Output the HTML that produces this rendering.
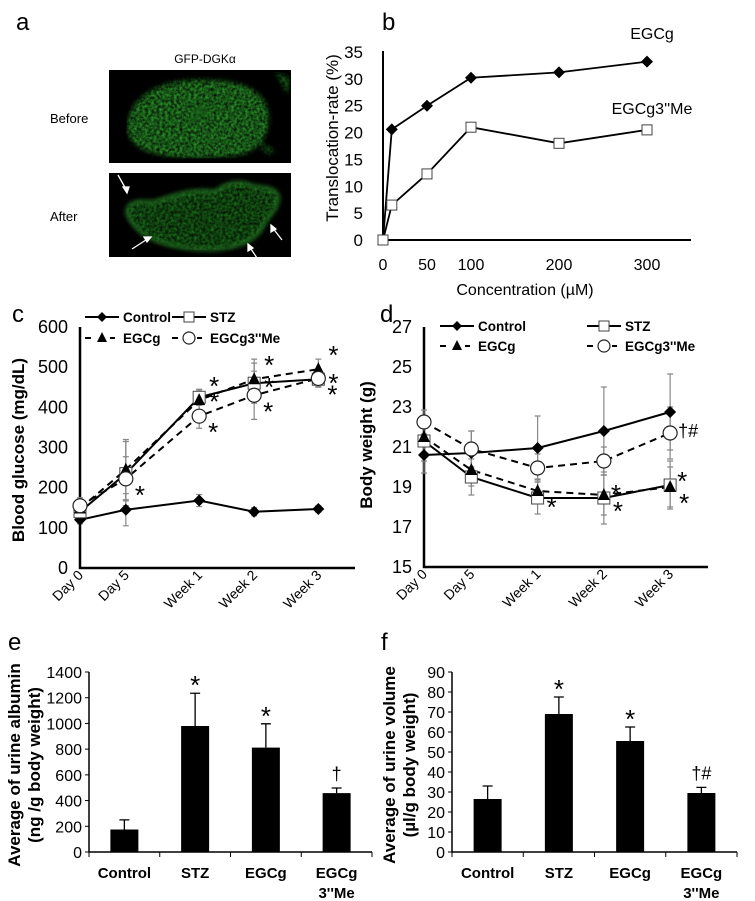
<!DOCTYPE html>
<html><head><meta charset="utf-8"><style>
html,body{margin:0;padding:0;background:#fff;}
svg{display:block;font-family:"Liberation Sans",sans-serif;}
</style></head><body>
<svg id="fig" width="755" height="901" viewBox="0 0 755 901" xmlns="http://www.w3.org/2000/svg">
<defs>
<filter id="blur2"><feGaussianBlur stdDeviation="2.5"/></filter>
<filter id="tex" x="0" y="0" width="100%" height="100%">
<feTurbulence type="fractalNoise" baseFrequency="0.35" numOctaves="2" result="n"/>
<feColorMatrix in="n" type="matrix" values="0 0 0 0 0  0 0 0 0 0  0 0 0 0 0  0 0 0 -1.2 1.1" result="m"/>
<feComposite in="SourceGraphic" in2="m" operator="in"/>
</filter>
</defs>
<g>
<text x="16" y="30" font-size="24">a</text>
<text x="205" y="63" font-size="12" text-anchor="middle">GFP-DGKα</text>
<text x="50" y="123" font-size="13">Before</text>
<text x="50" y="221" font-size="13">After</text>
<g>
<rect x="109" y="70" width="182" height="93" fill="#000"/>
<g filter="url(#tex)"><g filter="url(#blur2)">
<path d="M128,120 C135,90 170,78 205,80 C240,80 262,88 268,110 C272,130 262,150 240,155 C210,160 160,160 140,148 C128,140 125,130 128,120Z" fill="#2fa82f"/>
<path d="M255,140 L275,150 L268,155Z M275,72 L290,78 L288,95Z" fill="#1f7f1f"/>
</g></g>
<ellipse cx="200" cy="112" rx="8" ry="6" fill="#155a15" opacity="0.6" filter="url(#blur2)"/>
</g>
<g>
<rect x="109" y="173" width="182" height="84" fill="#000"/>
<g filter="url(#tex)"><g filter="url(#blur2)">
<path d="M130,205 C140,198 150,205 160,200 C175,195 195,188 215,192 C225,184 240,178 252,186 C262,188 272,186 278,195 C282,205 268,215 262,228 C255,240 240,246 225,248 C205,252 185,248 170,245 C150,240 138,232 132,222 C126,215 125,210 130,205Z" fill="#1c7a1c"/>
</g></g>
<path d="M130,205 C140,198 150,205 160,200 C175,195 195,188 215,192 C225,184 240,178 252,186 C262,188 272,186 278,195 C282,205 268,215 262,228 C255,240 240,246 225,248 C205,252 185,248 170,245 C150,240 138,232 132,222 C126,215 125,210 130,205Z" fill="none" stroke="#3fc43f" stroke-width="2.5" opacity="0.7" filter="url(#blur2)"/>
<g stroke="#fff" stroke-width="1.3">
<line x1="118" y1="175" x2="127" y2="191"/><polygon points="127,193 123,187 129,187" fill="#fff"/>
<line x1="132" y1="249" x2="149" y2="238"/><polygon points="151,237 144,237 147,242" fill="#fff"/>
<line x1="257" y1="258" x2="249" y2="246"/><polygon points="248,244 248,251 253,248" fill="#fff"/>
<line x1="282" y1="240" x2="272" y2="227"/><polygon points="271,225 271,232 276,229" fill="#fff"/>
</g>
</g>
</g>
<g id="b"></g>
<g id="c"></g>
<g id="d"></g>
<g id="e"></g>
<g id="f"></g>
</svg>
<script>
// ---- panel b data
const bConc = [0, 10, 50, 100, 200, 300];
const bEGCg = [0, 20.6, 25.0, 30.2, 31.2, 33.2];
const bMe = [0, 6.5, 12.3, 21.0, 18.0, 20.5];
const bYTicks = [0, 5, 10, 15, 20, 25, 30, 35];
const bXTicks = [0, 50, 100, 200, 300];
// ---- panel c data
const weekLabels = ["Day 0", "Day 5", "Week 1", "Week 2", "Week 3"];
const cDays = [0, 5, 13, 19, 26];
const dDays = [0, 5, 12, 19, 26];
const cControl = [120, 145, 168, 140, 147];
const cSTZ = [140, 235, 425, 460, 470];
const cEGCg = [148, 245, 418, 470, 495];
const cMe = [155, 222, 378, 430, 472];
const cControlErr = [10, 40, 15, 10, 8];
const cSTZErr = [20, 80, 20, 50, 20];
const cEGCgErr = [20, 75, 25, 50, 25];
const cMeErr = [20, 55, 30, 60, 20];
const cYTicks = [0, 100, 200, 300, 400, 500, 600];
// ---- panel d data
const dControl = [20.6, 20.7, 20.95, 21.8, 22.75];
const dSTZ = [21.3, 19.5, 18.45, 18.45, 19.1];
const dEGCg = [21.5, 19.85, 18.8, 18.6, 19.0];
const dMe = [22.25, 20.9, 19.95, 20.3, 21.7];
const dControlErr = [0.9, 1.1, 1.6, 2.2, 1.9];
const dSTZErr = [1.0, 0.9, 0.8, 1.3, 1.2];
const dEGCgErr = [0.9, 0.8, 0.6, 1.0, 1.0];
const dMeErr = [0.6, 0.9, 0.7, 0.7, 1.3];
const dYTicks = [15, 17, 19, 21, 23, 25, 27];
// ---- panel e/f data
const barCats = ["Control", "STZ", "EGCg", "EGCg|3''Me"];
const eVals = [175, 980, 812, 458];
const eErr = [75, 255, 185, 40];
const eMarks = ["", "*", "*", "†"];
const eYTicks = [0, 200, 400, 600, 800, 1000, 1200, 1400];
const fVals = [26.5, 69, 55.5, 29.5];
const fErr = [6.5, 8.5, 7, 2.8];
const fMarks = ["", "*", "*", "†#"];
const fYTicks = [0, 10, 20, 30, 40, 50, 60, 70, 80, 90];

const NS = "http://www.w3.org/2000/svg";
function mk(parent, tag, attrs, txt) {
  const el = document.createElementNS(NS, tag);
  for (const k in attrs) el.setAttribute(k, attrs[k]);
  if (txt !== undefined) el.textContent = txt;
  parent.appendChild(el);
  return el;
}
function lin(d0, d1, r0, r1) { return v => r0 + (v - d0) / (d1 - d0) * (r1 - r0); }

function marker(g, type, x, y, s) {
  let el;
  if (type === "diamond") el = mk(g, "polygon", {points: `${x},${y-s} ${x+s},${y} ${x},${y+s} ${x-s},${y}`, fill: "#000"});
  else if (type === "square") el = mk(g, "rect", {x: x-s, y: y-s, width: 2*s, height: 2*s, fill: "#fff", stroke: "#444", "stroke-width": 1});
  else if (type === "triangle") el = mk(g, "polygon", {points: `${x},${y-s-1} ${x+s},${y+s-1} ${x-s},${y+s-1}`, fill: "#000"});
  else el = mk(g, "circle", {cx: x, cy: y, r: s, fill: "#fff", stroke: "#222", "stroke-width": 1.2});
  
  
  return el;
}
function sigText(g, x, y, t, anchor) {
  // asterisk glyph is small/high in Liberation; draw it larger and lower
  const star = t === "*";
  const el = mk(g, "text", {x: x, y: star ? y + 9 : y, "font-size": star ? 26 : 18, "text-anchor": anchor || "start"}, t);
  
  
  return el;
}

// ---------- panel b
(function () {
  const g = document.getElementById("b");
  const x = lin(0, 350, 383, 691), y = lin(0, 35, 240, 52);
  const lbl = mk(g, "text", {x: 382, y: 30, "font-size": 24}, "b");
  
  
  const ax = mk(g, "path", {d: `M383,51 V240 H691`, fill: "none", stroke: "#000", "stroke-width": 2});
  
  
  bYTicks.forEach(t => {
    const el = mk(g, "text", {x: 363, y: y(t) + 6, "font-size": 17, "text-anchor": "end"}, t);
    
    
  });
  bXTicks.forEach(t => {
    const el = mk(g, "text", {x: x(t), y: 270, "font-size": 16, "text-anchor": "middle"}, t);
    
    
  });
  const yt = mk(g, "text", {transform: "translate(338,138) rotate(-90)", "font-size": 17, "text-anchor": "middle"}, "Translocation-rate (%)");
  
  
  const xt = mk(g, "text", {x: 525, y: 295, "font-size": 16, "text-anchor": "middle"}, "Concentration (µM)");
  
  
  [[bEGCg, "diamond", 6, "line-egcg"], [bMe, "square", 5, "line-egcg3me"]].forEach(([vals, m, s, nm]) => {
    const pl = mk(g, "polyline", {points: bConc.map((c, i) => x(c) + "," + y(vals[i])).join(" "), fill: "none", stroke: "#000", "stroke-width": 1.8});
    
    
    bConc.forEach((c, i) => marker(g, (i === 0 ? "square" : m), x(c), y(vals[i]), i === 0 ? 5 : s));
  });
  const l1 = mk(g, "text", {x: 652, y: 39, "font-size": 16, "text-anchor": "middle"}, "EGCg");
  
  
  const l2 = mk(g, "text", {x: 652, y: 114, "font-size": 16, "text-anchor": "middle"}, "EGCg3''Me");
  
  
})();

// ---------- line panels c/d
function linePanel(id, opt) {
  const g = document.getElementById(id);
  const x = lin(0, 30, opt.x0, opt.x1), y = lin(opt.ymin, opt.ymax, opt.yb, opt.yt);
  const lbl = mk(g, "text", {x: opt.lx, y: opt.ly, "font-size": 24}, id);
  
  
  const ax = mk(g, "path", {d: `M${opt.x0},${opt.yt} V${opt.yb} H${opt.x1}`, fill: "none", stroke: "#000", "stroke-width": 2.5});
  
  
  opt.yTicks.forEach(t => {
    const el = mk(g, "text", {x: opt.x0 - 12, y: y(t) + 6, "font-size": 18, "text-anchor": "end"}, t);
    
    
  });
  opt.days.forEach((d, i) => {
    const el = mk(g, "text", {transform: `translate(${x(d) + 4},${opt.yb + 8}) rotate(-45)`, "font-size": 14, "text-anchor": "end"}, weekLabels[i]);
    
    
  });
  const yt = mk(g, "text", {transform: `translate(${opt.tx},${opt.ty}) rotate(-90)`, "font-size": 17, "font-weight": "bold", "text-anchor": "middle"}, opt.title);
  
  
  opt.series.forEach(s => {
    opt.days.forEach((d, i) => {
      const xx = x(d), y1 = y(s.vals[i] - s.err[i]), y2 = y(s.vals[i] + s.err[i]);
      const eb = mk(g, "path", {d: `M${xx},${y1} V${y2} M${xx-3},${y1} H${xx+3} M${xx-3},${y2} H${xx+3}`, stroke: "#888", "stroke-width": 1.2, fill: "none"});
      
      
    });
  });
  opt.series.forEach(s => {
    const pl = mk(g, "polyline", {points: opt.days.map((d, i) => x(d) + "," + y(s.vals[i])).join(" "), fill: "none", stroke: "#000", "stroke-width": 2, "stroke-dasharray": s.dash ? "7,5" : "none"});
    
    
  });
  opt.series.forEach(s => opt.days.forEach((d, i) => marker(g, s.m, x(d), y(s.vals[i]), s.m === "circle" ? 7 : 6)));
  opt.series.forEach(s => {
    s.marks.forEach((t, i) => {
      if (!t) return;
      sigText(g, x(opt.days[i]) + s.dx, y(s.vals[i]) + s.dy, t);
    });
  });
  const L = opt.leg;
  const items = [["Control", "diamond", false, L.c1, L.r1], ["STZ", "square", false, L.c2, L.r1], ["EGCg", "triangle", true, L.c1, L.r2], ["EGCg3''Me", "circle", true, L.c2, L.r2]];
  items.forEach(([t, m, dash, cx, cy]) => {
    const lg = mk(g, "g", {});
    
    
    mk(lg, "line", {x1: cx, y1: cy, x2: cx + 34, y2: cy, stroke: "#000", "stroke-width": 2, "stroke-dasharray": dash ? "6,6" : "none"});
    if (dash) mk(lg, "rect", {x: cx + 9, y: cy - 3, width: 16, height: 6, fill: "#fff"});
    marker(lg, m, cx + 17, cy, m === "circle" ? 6 : 5);
    mk(lg, "text", {x: cx + 38, y: cy + 5, "font-size": 13.5, "font-weight": "bold"}, t);
  });
}
linePanel("c", {x0: 80, x1: 355, yb: 568, yt: 327, ymin: 0, ymax: 600, days: cDays, yTicks: cYTicks, lx: 12, ly: 322, tx: 24, ty: 450, title: "Blood glucose (mg/dL)",
  leg: {c1: 85, c2: 172, r1: 317, r2: 338},
  series: [
    {name: "control", vals: cControl, err: cControlErr, m: "diamond", dash: false, marks: [], dx: 0, dy: 0},
    {name: "stz", vals: cSTZ, err: cSTZErr, m: "square", dash: false, marks: ["", "", "*", "*", "*"], dx: 10, dy: 4},
    {name: "egcg", vals: cEGCg, err: cEGCgErr, m: "triangle", dash: true, marks: ["", "", "*", "*", "*"], dx: 10, dy: -14},
    {name: "egcg3me", vals: cMe, err: cMeErr, m: "circle", dash: true, marks: ["", "*", "*", "*", "*"], dx: 9, dy: 16}
  ]});
linePanel("d", {x0: 424, x1: 708, yb: 567, yt: 327, ymin: 15, ymax: 27, days: dDays, yTicks: dYTicks, lx: 380, ly: 322, tx: 372, ty: 445, title: "Body weight (g)",
  leg: {c1: 440, c2: 587, r1: 326, r2: 346},
  series: [
    {name: "control", vals: dControl, err: dControlErr, m: "diamond", dash: false, marks: [], dx: 0, dy: 0},
    {name: "stz", vals: dSTZ, err: dSTZErr, m: "square", dash: false, marks: ["", "", "", "*", "*"], dx: 7, dy: -4},
    {name: "egcg", vals: dEGCg, err: dEGCgErr, m: "triangle", dash: true, marks: ["", "", "*", "*", "*"], dx: 9, dy: 16},
    {name: "egcg3me", vals: dMe, err: dMeErr, m: "circle", dash: true, marks: ["", "", "", "", "†#"], dx: 8, dy: 4}
  ]});

// ---------- bar panels
function barPanel(id, opt) {
  const g = document.getElementById(id);
  const y = lin(0, opt.ymax, 852, 672);
  const bw = (opt.x1 - opt.x0) / barCats.length;
  const lbl = mk(g, "text", {x: opt.lx, y: 650, "font-size": 24}, id);
  
  
  const ax = mk(g, "path", {d: `M${opt.x0},672 V852 H${opt.x1}`, fill: "none", stroke: "#000", "stroke-width": 1.5});
  
  
  opt.ticks.forEach(t => {
    mk(g, "line", {x1: opt.x0 - 4, x2: opt.x0, y1: y(t), y2: y(t), stroke: "#000"});
    const el = mk(g, "text", {x: opt.x0 - 7, y: y(t) + 6, "font-size": 16, "text-anchor": "end"}, t);
    
    
  });
  for (let i = 0; i <= barCats.length; i++) mk(g, "line", {x1: opt.x0 + i * bw, x2: opt.x0 + i * bw, y1: 852, y2: 857, stroke: "#000"});
  barCats.forEach((c, i) => {
    const cx = opt.x0 + (i + 0.5) * bw, v = opt.vals[i], e = opt.err[i];
    const eb = mk(g, "path", {d: `M${cx},${y(v)} V${y(v + e)} M${cx - 5},${y(v + e)} H${cx + 5}`, stroke: "#000", "stroke-width": 1.3, fill: "none"});
    
    
    const b = mk(g, "rect", {x: cx - 14, y: y(v), width: 28, height: 852 - y(v), fill: "#000"});
    
    
    if (opt.marks[i]) sigText(g, cx, y(v + e) - 8, opt.marks[i], "middle");
    c.split("|").forEach((part, k) => {
      const t = mk(g, "text", {x: cx, y: 878 + k * 20, "font-size": 15, "font-weight": "bold", "text-anchor": "middle"}, part);
      
      
    });
  });
  opt.title.forEach((t, k) => {
    const el = mk(g, "text", {transform: `translate(${opt.tx + k * 20},${opt.ty}) rotate(-90)`, "font-size": 17, "font-weight": "bold", "text-anchor": "middle"}, t);
    
    
  });
}
barPanel("e", {x0: 89, x1: 372, ymax: 1400, vals: eVals, err: eErr, marks: eMarks, ticks: eYTicks, lx: 8, tx: 20, ty: 765, title: ["Average of urine albumin", "(ng /g body weight)"]});
barPanel("f", {x0: 452, x1: 737, ymax: 90, vals: fVals, err: fErr, marks: fMarks, ticks: fYTicks, lx: 381, tx: 395, ty: 765, title: ["Average of urine volume", "(µl/g body weight)"]});
</script>
</body></html>
